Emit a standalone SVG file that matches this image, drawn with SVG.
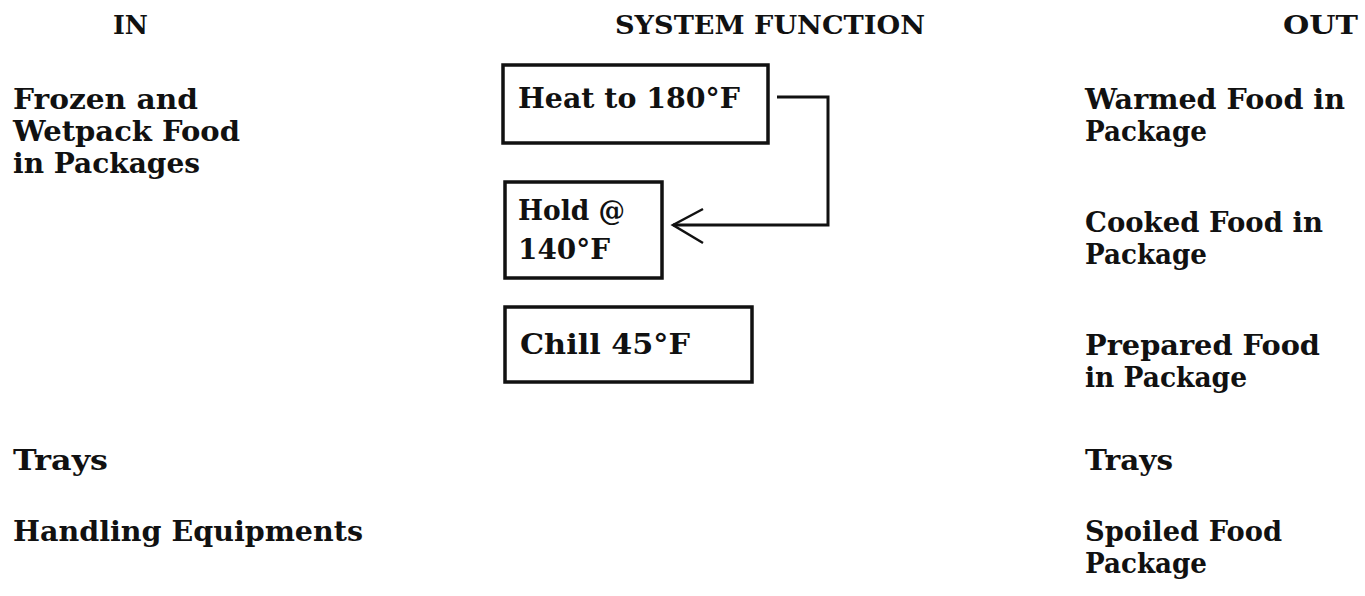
<svg xmlns="http://www.w3.org/2000/svg" width="1365" height="596" viewBox="0 0 1365 596">
<style>
text{font-family:"DejaVu Serif","Liberation Serif",serif;font-weight:bold;fill:#111;font-size:27px}
.h{font-size:26px}
.box{fill:none;stroke:#111;stroke-width:3.5}
.conn{fill:none;stroke:#111;stroke-width:3}
.head{fill:none;stroke:#111;stroke-width:2.5}
</style>
<rect width="1365" height="596" fill="#fff"/>
<g id="headers">
<text class="h" x="113" y="34" textLength="35" lengthAdjust="spacingAndGlyphs">IN</text>
<text class="h" x="615" y="34" textLength="310" lengthAdjust="spacingAndGlyphs">SYSTEM FUNCTION</text>
<text class="h" x="1283" y="34" textLength="75" lengthAdjust="spacingAndGlyphs">OUT</text>
</g>
<g id="in-food">
<text x="13" y="109" textLength="185" lengthAdjust="spacingAndGlyphs">Frozen and</text>
<text x="13" y="141" textLength="227" lengthAdjust="spacingAndGlyphs">Wetpack Food</text>
<text x="13" y="173" textLength="187" lengthAdjust="spacingAndGlyphs">in Packages</text>
</g>
<g id="in-trays"><text x="13" y="470" textLength="95" lengthAdjust="spacingAndGlyphs">Trays</text></g>
<g id="in-handling"><text x="13" y="541" textLength="350" lengthAdjust="spacingAndGlyphs">Handling Equipments</text></g>
<g id="heat">
<rect class="box" x="503" y="65" width="265" height="78"/>
<text x="518" y="108" textLength="222" lengthAdjust="spacingAndGlyphs">Heat to 180°F</text>
</g>
<g id="hold">
<rect class="box" x="505" y="182" width="157" height="96"/>
<text x="518" y="220" textLength="107" lengthAdjust="spacingAndGlyphs">Hold @</text>
<text x="518" y="259" textLength="92" lengthAdjust="spacingAndGlyphs">140°F</text>
</g>
<g id="chill">
<rect class="box" x="505" y="307" width="247" height="75"/>
<text x="520" y="354" textLength="170" lengthAdjust="spacingAndGlyphs">Chill 45°F</text>
</g>
<g id="connectors">
<polyline class="conn" points="777,97 828,97 828,225 673,225"/>
<polyline class="head" points="703,209 673,225 703,243"/>
</g>
<g id="out-warmed">
<text x="1085" y="109" textLength="260" lengthAdjust="spacingAndGlyphs">Warmed Food in</text>
<text x="1085" y="141" textLength="122" lengthAdjust="spacingAndGlyphs">Package</text>
</g>
<g id="out-cooked">
<text x="1085" y="232" textLength="238" lengthAdjust="spacingAndGlyphs">Cooked Food in</text>
<text x="1085" y="264" textLength="122" lengthAdjust="spacingAndGlyphs">Package</text>
</g>
<g id="out-prepared">
<text x="1085" y="355" textLength="235" lengthAdjust="spacingAndGlyphs">Prepared Food</text>
<text x="1085" y="387" textLength="162" lengthAdjust="spacingAndGlyphs">in Package</text>
</g>
<g id="out-trays"><text x="1085" y="470" textLength="88" lengthAdjust="spacingAndGlyphs">Trays</text></g>
<g id="out-spoiled">
<text x="1085" y="541" textLength="197" lengthAdjust="spacingAndGlyphs">Spoiled Food</text>
<text x="1085" y="573" textLength="122" lengthAdjust="spacingAndGlyphs">Package</text>
</g>
</svg>
